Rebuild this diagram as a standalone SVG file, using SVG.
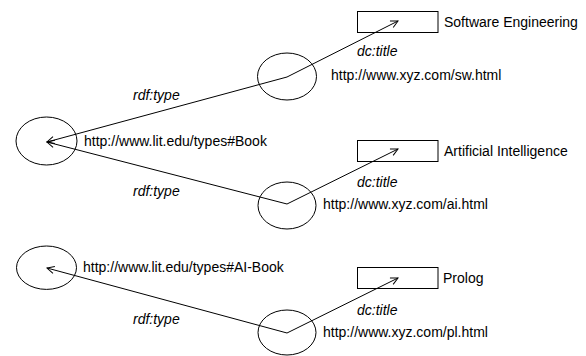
<svg xmlns="http://www.w3.org/2000/svg" width="586" height="356" viewBox="0 0 586 356">
<defs>
<marker id="arr" viewBox="0 0 10 10" refX="9" refY="5" markerWidth="9" markerHeight="9" markerUnits="userSpaceOnUse" orient="auto">
<path d="M1,1 L9,5 L1,9" fill="none" stroke="#000" stroke-width="1.1"/>
</marker>
<style>
.n{fill:none;stroke:#000;stroke-width:1}
.e{fill:none;stroke:#000;stroke-width:1;marker-end:url(#arr)}
text{font-family:"Liberation Sans",Arial,sans-serif;font-size:14px;fill:#000}
.i{font-style:italic}
</style>
</defs>
<rect width="586" height="356" fill="#fff"/>
<g id="book"><ellipse class="n" cx="46.5" cy="141" rx="30.5" ry="24"/><text x="84" y="146">http://www.lit.edu/types#Book</text></g>
<g id="aibook"><ellipse class="n" cx="46.5" cy="267.7" rx="30" ry="21.7"/><text x="83" y="272">http://www.lit.edu/types#AI-Book</text></g>
<g id="sw"><ellipse class="n" cx="287" cy="76.5" rx="29.5" ry="23.5"/><text x="331" y="80">http://www.xyz.com/sw.html</text></g>
<g id="ai"><ellipse class="n" cx="287" cy="205.5" rx="29" ry="23.5"/><text x="323" y="209">http://www.xyz.com/ai.html</text></g>
<g id="pl"><ellipse class="n" cx="287" cy="332.5" rx="29" ry="22.5"/><text x="323" y="337">http://www.xyz.com/pl.html</text></g>
<g id="swtitle"><rect class="n" x="357.5" y="11.5" width="80.5" height="21"/><text x="444" y="26.5">Software Engineering</text></g>
<g id="aititle"><rect class="n" x="357.5" y="140.5" width="80.5" height="21"/><text x="444" y="156">Artificial Intelligence</text></g>
<g id="pltitle"><rect class="n" x="357.5" y="267.5" width="80.5" height="21"/><text x="443" y="283">Prolog</text></g>
<g id="connectors">
<line class="e" x1="287" y1="77" x2="47" y2="142"/>
<line class="e" x1="287" y1="204" x2="47" y2="142"/>
<line class="e" x1="287" y1="333" x2="47" y2="268"/>
<line class="e" x1="287" y1="77" x2="398" y2="21"/>
<line class="e" x1="287" y1="204" x2="398" y2="149"/>
<line class="e" x1="287" y1="333" x2="398" y2="278"/>
<text class="i" x="133" y="100">rdf:type</text>
<text class="i" x="133" y="196">rdf:type</text>
<text class="i" x="133" y="324">rdf:type</text>
<text class="i" x="357" y="56">dc:title</text>
<text class="i" x="357" y="187">dc:title</text>
<text class="i" x="357" y="315">dc:title</text>
</g>
</svg>
